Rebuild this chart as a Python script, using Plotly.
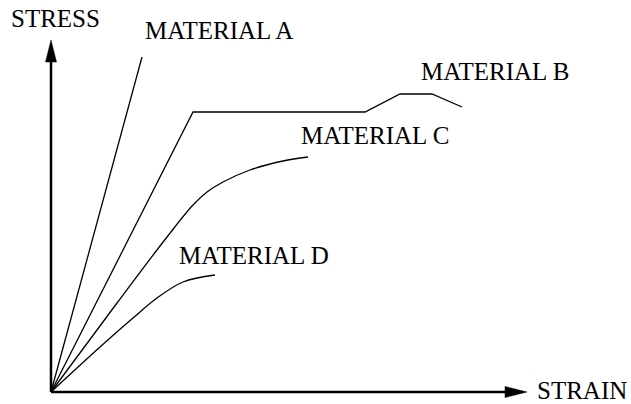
import plotly.graph_objects as go

# Data (strain, stress) in arbitrary units
a_strain = [0, 91]
a_stress = [0, 335]

b_strain = [0, 142, 314, 349, 381, 411]
b_stress = [0, 280, 280, 298, 298, 285]

c_strain = [0, 66, 116, 142, 156, 172, 199, 232, 257]
c_stress = [0, 89, 155, 187, 200, 210, 222, 231, 235]

d_strain = [0, 49, 82, 106, 132, 164]
d_stress = [0, 45, 74, 94, 110, 117]

labels = ["MATERIAL A", "MATERIAL B", "MATERIAL C", "MATERIAL D"]
label_x = [92, 368, 248, 126]
label_y = [361.5, 320.5, 256.5, 136.5]

axis_x_end = 476
axis_y_end = 352
head_len = 22
head_half = 5.5

fig = go.Figure()
line_style = dict(color="black", width=1.3)
fig.add_trace(go.Scatter(x=a_strain, y=a_stress, mode="lines", line=line_style))
fig.add_trace(go.Scatter(x=b_strain, y=b_stress, mode="lines", line=line_style))
fig.add_trace(go.Scatter(x=c_strain, y=c_stress, mode="lines",
                         line=dict(color="black", width=1.3, shape="spline", smoothing=1)))
fig.add_trace(go.Scatter(x=d_strain, y=d_stress, mode="lines",
                         line=dict(color="black", width=1.3, shape="spline", smoothing=1)))

shapes = [
    dict(type="line", x0=0, y0=0, x1=axis_x_end - head_len + 2, y1=0, line=dict(color="black", width=2.5)),
    dict(type="line", x0=0, y0=0, x1=0, y1=axis_y_end - head_len + 2, line=dict(color="black", width=2.5)),
    dict(type="path",
         path=f"M {axis_x_end - head_len},{-head_half} L {axis_x_end},0 L {axis_x_end - head_len},{head_half} Z",
         fillcolor="black", line=dict(color="black", width=0.5)),
    dict(type="path",
         path=f"M {-head_half},{axis_y_end - head_len} L 0,{axis_y_end} L {head_half},{axis_y_end - head_len} Z",
         fillcolor="black", line=dict(color="black", width=0.5)),
]

font = dict(family="Liberation Serif", size=25, color="black")
annotations = []
for t, x, y in zip(labels, label_x, label_y):
    annotations.append(dict(text=t, x=x, y=y, xref="x", yref="y", xanchor="left", yanchor="middle",
                            showarrow=False, font=font))
annotations.append(dict(text="STRESS", x=-42, y=374, xref="x", yref="y", xanchor="left", yanchor="middle",
                        showarrow=False, font=font))
annotations.append(dict(text="STRAIN", x=484, y=1.5, xref="x", yref="y", xanchor="left", yanchor="middle",
                        showarrow=False, font=font))

fig.update_layout(
    width=631, height=404,
    margin=dict(l=0, r=0, t=0, b=0),
    paper_bgcolor="white", plot_bgcolor="white",
    showlegend=False,
    xaxis=dict(range=[-51, 580], visible=False, fixedrange=True),
    yaxis=dict(range=[-12, 392], visible=False, fixedrange=True),
    shapes=shapes,
    annotations=annotations,
)

# remove the default 8px body margin so the figure fills the window exactly
fig.write_html("out.html", config={"displayModeBar": False, "staticPlot": True},
               post_script="document.body.style.margin='0';document.body.style.overflow='hidden';")
